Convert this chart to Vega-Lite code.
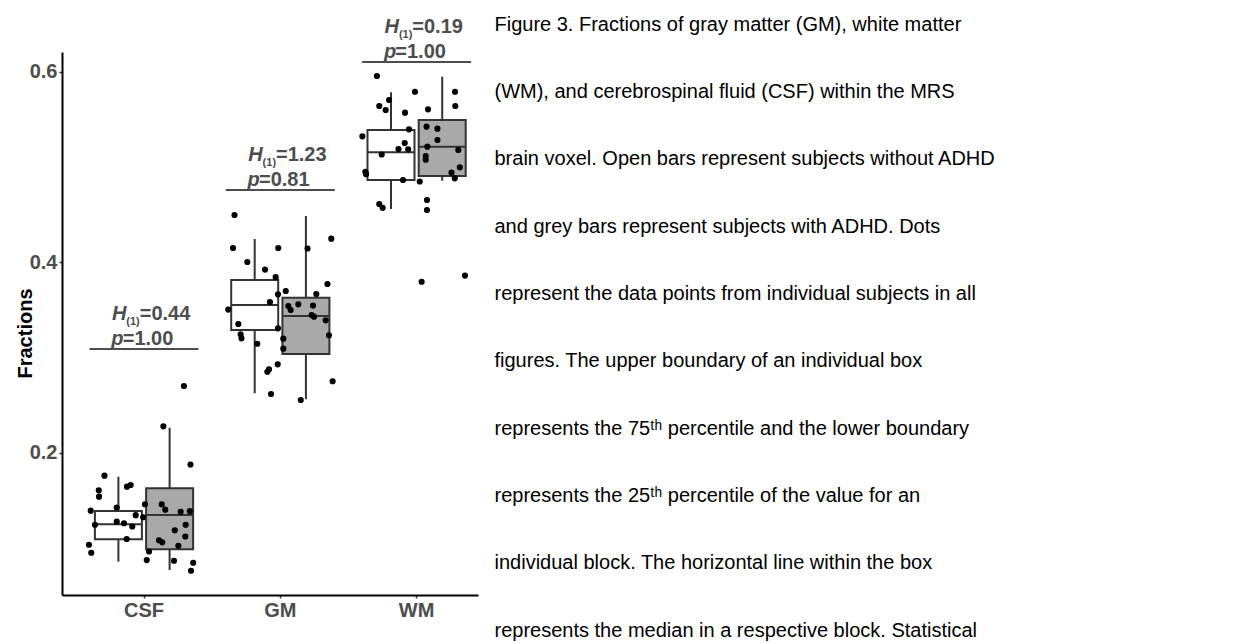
{
  "$schema": "https://vega.github.io/schema/vega-lite/v6.json",
  "background": "white",
  "padding": {"left": 15, "top": 14, "right": 5, "bottom": 5},
  "spacing": 16,
  "config": {
    "view": {"stroke": null},
    "font": "Liberation Sans",
    "axis": {
      "labelFont": "Liberation Sans",
      "labelFontSize": 20,
      "labelFontWeight": "bold",
      "labelColor": "#4D4D4D",
      "domainColor": "#000000",
      "domainWidth": 2,
      "tickColor": "#333333",
      "tickWidth": 1.5,
      "tickSize": 3,
      "labelPadding": 2,
      "grid": false,
      "titleFont": "Liberation Sans",
      "titleFontSize": 20,
      "titleFontWeight": "bold",
      "titleColor": "#000000"
    }
  },
  "datasets": {
    "boxes": [
      {"cat": "CSF", "group": "Control", "lower": 0.0856, "q1": 0.1091, "median": 0.1248, "q3": 0.1388, "upper": 0.1748},
      {"cat": "CSF", "group": "ADHD", "lower": 0.0769, "q1": 0.0986, "median": 0.1346, "q3": 0.1626, "upper": 0.2262},
      {"cat": "GM", "group": "Control", "lower": 0.2624, "q1": 0.3288, "median": 0.3551, "q3": 0.3813, "upper": 0.4244},
      {"cat": "GM", "group": "ADHD", "lower": 0.2561, "q1": 0.3036, "median": 0.3435, "q3": 0.3627, "upper": 0.4485},
      {"cat": "WM", "group": "Control", "lower": 0.4559, "q1": 0.4863, "median": 0.5154, "q3": 0.5388, "upper": 0.5784},
      {"cat": "WM", "group": "ADHD", "lower": 0.4856, "q1": 0.4905, "median": 0.5213, "q3": 0.5493, "upper": 0.5948}
    ],
    "points": [
      {"cat": "CSF", "group": "ADHD", "j": 0.293, "v": 0.270},
      {"cat": "CSF", "group": "ADHD", "j": 0.142, "v": 0.2277},
      {"cat": "CSF", "group": "ADHD", "j": 0.341, "v": 0.1876},
      {"cat": "CSF", "group": "Control", "j": -0.290, "v": 0.1759},
      {"cat": "CSF", "group": "Control", "j": -0.098, "v": 0.1661},
      {"cat": "CSF", "group": "Control", "j": -0.125, "v": 0.1643},
      {"cat": "CSF", "group": "Control", "j": -0.332, "v": 0.1605},
      {"cat": "CSF", "group": "Control", "j": -0.330, "v": 0.1538},
      {"cat": "CSF", "group": "Control", "j": -0.391, "v": 0.1391},
      {"cat": "CSF", "group": "Control", "j": -0.200, "v": 0.1425},
      {"cat": "CSF", "group": "ADHD", "j": 0.007, "v": 0.1459},
      {"cat": "CSF", "group": "ADHD", "j": 0.130, "v": 0.1459},
      {"cat": "CSF", "group": "ADHD", "j": 0.156, "v": 0.1402},
      {"cat": "CSF", "group": "ADHD", "j": 0.269, "v": 0.1379},
      {"cat": "CSF", "group": "ADHD", "j": 0.336, "v": 0.1386},
      {"cat": "CSF", "group": "Control", "j": -0.061, "v": 0.1344},
      {"cat": "CSF", "group": "Control", "j": -0.006, "v": 0.1322},
      {"cat": "CSF", "group": "Control", "j": -0.360, "v": 0.1244},
      {"cat": "CSF", "group": "Control", "j": -0.200, "v": 0.1276},
      {"cat": "CSF", "group": "Control", "j": -0.147, "v": 0.1259},
      {"cat": "CSF", "group": "Control", "j": -0.086, "v": 0.1225},
      {"cat": "CSF", "group": "ADHD", "j": 0.306, "v": 0.1244},
      {"cat": "CSF", "group": "ADHD", "j": 0.226, "v": 0.1186},
      {"cat": "CSF", "group": "Control", "j": -0.127, "v": 0.1094},
      {"cat": "CSF", "group": "ADHD", "j": 0.110, "v": 0.1081},
      {"cat": "CSF", "group": "ADHD", "j": 0.134, "v": 0.1059},
      {"cat": "CSF", "group": "ADHD", "j": 0.303, "v": 0.112},
      {"cat": "CSF", "group": "ADHD", "j": 0.252, "v": 0.1023},
      {"cat": "CSF", "group": "Control", "j": -0.404, "v": 0.1034},
      {"cat": "CSF", "group": "Control", "j": -0.387, "v": 0.095},
      {"cat": "CSF", "group": "ADHD", "j": 0.037, "v": 0.0963},
      {"cat": "CSF", "group": "ADHD", "j": 0.020, "v": 0.0873},
      {"cat": "CSF", "group": "ADHD", "j": 0.220, "v": 0.0866},
      {"cat": "CSF", "group": "ADHD", "j": 0.361, "v": 0.0845},
      {"cat": "CSF", "group": "ADHD", "j": 0.345, "v": 0.0761},
      {"cat": "GM", "group": "Control", "j": -0.336, "v": 0.4496},
      {"cat": "GM", "group": "Control", "j": -0.347, "v": 0.4149},
      {"cat": "GM", "group": "Control", "j": -0.015, "v": 0.4149},
      {"cat": "GM", "group": "Control", "j": -0.242, "v": 0.4002},
      {"cat": "GM", "group": "Control", "j": -0.112, "v": 0.3923},
      {"cat": "GM", "group": "Control", "j": -0.034, "v": 0.3843},
      {"cat": "GM", "group": "Control", "j": -0.017, "v": 0.3663},
      {"cat": "GM", "group": "ADHD", "j": 0.040, "v": 0.3698},
      {"cat": "GM", "group": "Control", "j": -0.076, "v": 0.3582},
      {"cat": "GM", "group": "Control", "j": -0.382, "v": 0.3503},
      {"cat": "GM", "group": "Control", "j": -0.308, "v": 0.3351},
      {"cat": "GM", "group": "Control", "j": -0.291, "v": 0.3243},
      {"cat": "GM", "group": "Control", "j": -0.285, "v": 0.3201},
      {"cat": "GM", "group": "Control", "j": -0.169, "v": 0.3144},
      {"cat": "GM", "group": "Control", "j": -0.017, "v": 0.3306},
      {"cat": "GM", "group": "ADHD", "j": 0.059, "v": 0.354},
      {"cat": "GM", "group": "ADHD", "j": 0.076, "v": 0.3498},
      {"cat": "GM", "group": "ADHD", "j": 0.132, "v": 0.3558},
      {"cat": "GM", "group": "ADHD", "j": 0.200, "v": 0.4144},
      {"cat": "GM", "group": "ADHD", "j": 0.374, "v": 0.4247},
      {"cat": "GM", "group": "ADHD", "j": 0.346, "v": 0.3771},
      {"cat": "GM", "group": "ADHD", "j": 0.264, "v": 0.3666},
      {"cat": "GM", "group": "ADHD", "j": 0.240, "v": 0.3545},
      {"cat": "GM", "group": "ADHD", "j": 0.230, "v": 0.3446},
      {"cat": "GM", "group": "ADHD", "j": 0.247, "v": 0.3428},
      {"cat": "GM", "group": "ADHD", "j": 0.333, "v": 0.339},
      {"cat": "GM", "group": "ADHD", "j": 0.357, "v": 0.3233},
      {"cat": "GM", "group": "ADHD", "j": 0.022, "v": 0.3197},
      {"cat": "GM", "group": "ADHD", "j": 0.022, "v": 0.3092},
      {"cat": "GM", "group": "Control", "j": -0.019, "v": 0.2928},
      {"cat": "GM", "group": "Control", "j": -0.083, "v": 0.2876},
      {"cat": "GM", "group": "Control", "j": -0.095, "v": 0.285},
      {"cat": "GM", "group": "Control", "j": -0.068, "v": 0.2616},
      {"cat": "GM", "group": "ADHD", "j": 0.150, "v": 0.2553},
      {"cat": "GM", "group": "ADHD", "j": 0.384, "v": 0.275},
      {"cat": "WM", "group": "Control", "j": -0.291, "v": 0.5955},
      {"cat": "WM", "group": "Control", "j": -0.012, "v": 0.579},
      {"cat": "WM", "group": "ADHD", "j": 0.282, "v": 0.579},
      {"cat": "WM", "group": "Control", "j": -0.202, "v": 0.5703},
      {"cat": "WM", "group": "Control", "j": -0.274, "v": 0.564},
      {"cat": "WM", "group": "Control", "j": -0.227, "v": 0.5598},
      {"cat": "WM", "group": "Control", "j": -0.085, "v": 0.557},
      {"cat": "WM", "group": "ADHD", "j": 0.084, "v": 0.5605},
      {"cat": "WM", "group": "ADHD", "j": 0.284, "v": 0.564},
      {"cat": "WM", "group": "Control", "j": -0.398, "v": 0.5322},
      {"cat": "WM", "group": "Control", "j": -0.056, "v": 0.5395},
      {"cat": "WM", "group": "ADHD", "j": 0.073, "v": 0.5423},
      {"cat": "WM", "group": "ADHD", "j": 0.153, "v": 0.5402},
      {"cat": "WM", "group": "ADHD", "j": 0.153, "v": 0.5283},
      {"cat": "WM", "group": "ADHD", "j": 0.079, "v": 0.5213},
      {"cat": "WM", "group": "Control", "j": -0.087, "v": 0.5251},
      {"cat": "WM", "group": "Control", "j": -0.133, "v": 0.5188},
      {"cat": "WM", "group": "Control", "j": -0.062, "v": 0.5185},
      {"cat": "WM", "group": "Control", "j": -0.256, "v": 0.5131},
      {"cat": "WM", "group": "ADHD", "j": 0.067, "v": 0.5115},
      {"cat": "WM", "group": "ADHD", "j": 0.067, "v": 0.5076},
      {"cat": "WM", "group": "ADHD", "j": 0.306, "v": 0.5178},
      {"cat": "WM", "group": "Control", "j": -0.376, "v": 0.495},
      {"cat": "WM", "group": "Control", "j": -0.371, "v": 0.4924},
      {"cat": "WM", "group": "ADHD", "j": 0.317, "v": 0.4996},
      {"cat": "WM", "group": "ADHD", "j": 0.256, "v": 0.494},
      {"cat": "WM", "group": "ADHD", "j": 0.280, "v": 0.4881},
      {"cat": "WM", "group": "Control", "j": -0.100, "v": 0.4863},
      {"cat": "WM", "group": "ADHD", "j": 0.023, "v": 0.4847},
      {"cat": "WM", "group": "Control", "j": -0.274, "v": 0.4611},
      {"cat": "WM", "group": "Control", "j": -0.249, "v": 0.4571},
      {"cat": "WM", "group": "ADHD", "j": 0.076, "v": 0.4653},
      {"cat": "WM", "group": "ADHD", "j": 0.076, "v": 0.4548},
      {"cat": "WM", "group": "ADHD", "j": 0.037, "v": 0.3795},
      {"cat": "WM", "group": "ADHD", "j": 0.355, "v": 0.386}
    ],
    "annot": [
      {"cat": "CSF", "y": 0.3089, "h": "=0.44", "p": "=1.00"},
      {"cat": "GM", "y": 0.4758, "h": "=1.23", "p": "=0.81"},
      {"cat": "WM", "y": 0.6102, "h": "=0.19", "p": "=1.00"}
    ],
    "caption": [
      {"line": 0, "text": "Figure 3. Fractions of gray matter (GM), white matter"},
      {"line": 1, "text": "(WM), and cerebrospinal fluid (CSF) within the MRS"},
      {"line": 2, "text": "brain voxel. Open bars represent subjects without ADHD"},
      {"line": 3, "text": "and grey bars represent subjects with ADHD. Dots"},
      {"line": 4, "text": "represent the data points from individual subjects in all"},
      {"line": 5, "text": "figures. The upper boundary of an individual box"},
      {"line": 6, "text": "represents the 75ᵗʰ percentile and the lower boundary"},
      {"line": 7, "text": "represents the 25ᵗʰ percentile of the value for an"},
      {"line": 8, "text": "individual block. The horizontal line within the box"},
      {"line": 9, "text": "represents the median in a respective block. Statistical"}
    ]
  },
  "hconcat": [
    {
      "width": 416,
      "height": 543,
      "encoding": {
        "x": {
          "field": "cat",
          "type": "nominal",
          "scale": {"type": "band", "domain": ["CSF", "GM", "WM"], "paddingInner": 0.099, "paddingOuter": 0.0756, "align": 1},
          "axis": {"title": null, "labelAngle": 0}
        }
      },
      "layer": [
        {
          "data": {"name": "boxes"},
          "mark": {"type": "rule", "color": "#333333", "strokeWidth": 2},
          "encoding": {
            "xOffset": {"field": "group", "type": "nominal", "scale": {"domain": ["Control", "ADHD"], "paddingInner": 0.082, "paddingOuter": 0.24}},
            "y": {
              "field": "lower",
              "type": "quantitative",
              "scale": {"domain": [0.0506, 0.6207], "nice": false, "zero": false},
              "axis": {"title": "Fractions", "values": [0.2, 0.4, 0.6], "format": ".1f", "titleX": -31, "titleY": 281, "titleAngle": -90, "titleAlign": "center", "titleBaseline": "alphabetic"}
            },
            "y2": {"field": "upper"}
          }
        },
        {
          "data": {"name": "boxes"},
          "mark": {"type": "bar", "stroke": "#333333", "strokeWidth": 2},
          "encoding": {
            "xOffset": {"field": "group", "type": "nominal", "scale": {"domain": ["Control", "ADHD"], "paddingInner": 0.082, "paddingOuter": 0.24}},
            "y": {"field": "q1", "type": "quantitative"},
            "y2": {"field": "q3"},
            "fill": {"field": "group", "type": "nominal", "scale": {"domain": ["Control", "ADHD"], "range": ["#FFFFFF", "#A9A9A9"]}, "legend": null}
          }
        },
        {
          "data": {"name": "boxes"},
          "mark": {"type": "bar", "fill": "transparent", "stroke": "#333333", "strokeWidth": 2},
          "encoding": {
            "xOffset": {"field": "group", "type": "nominal", "scale": {"domain": ["Control", "ADHD"], "paddingInner": 0.082, "paddingOuter": 0.24}},
            "y": {"field": "median", "type": "quantitative"},
            "y2": {"field": "median"}
          }
        },
        {
          "data": {"name": "points"},
          "mark": {"type": "circle", "size": 38, "color": "#000000", "opacity": 1},
          "encoding": {
            "xOffset": {"field": "j", "type": "quantitative", "scale": {"domain": [-0.4505, 0.4505]}},
            "y": {"field": "v", "type": "quantitative"}
          }
        },
        {
          "data": {"name": "annot"},
          "mark": {"type": "tick", "orient": "horizontal", "size": 109, "thickness": 2, "color": "#4D4D4D", "opacity": 1},
          "encoding": {"y": {"field": "y", "type": "quantitative"}}
        },
        {
          "data": {"name": "annot"},
          "mark": {"type": "text", "text": "H", "align": "left", "baseline": "alphabetic", "dx": -32, "dy": -29.3, "fontSize": 20, "fontWeight": "bold", "fontStyle": "italic", "color": "#4D4D4D"},
          "encoding": {"y": {"field": "y", "type": "quantitative"}}
        },
        {
          "data": {"name": "annot"},
          "mark": {"type": "text", "text": "(1)", "align": "left", "baseline": "alphabetic", "dx": -17.7, "dy": -23.7, "fontSize": 11, "fontWeight": "bold", "color": "#4D4D4D"},
          "encoding": {"y": {"field": "y", "type": "quantitative"}}
        },
        {
          "data": {"name": "annot"},
          "mark": {"type": "text", "align": "left", "baseline": "alphabetic", "dx": -4.3, "dy": -29.3, "fontSize": 20, "fontWeight": "bold", "color": "#4D4D4D"},
          "encoding": {"y": {"field": "y", "type": "quantitative"}, "text": {"field": "h"}}
        },
        {
          "data": {"name": "annot"},
          "mark": {"type": "text", "text": "p", "align": "left", "baseline": "alphabetic", "dx": -32.7, "dy": -4.2, "fontSize": 20, "fontWeight": "bold", "fontStyle": "italic", "color": "#4D4D4D"},
          "encoding": {"y": {"field": "y", "type": "quantitative"}}
        },
        {
          "data": {"name": "annot"},
          "mark": {"type": "text", "align": "left", "baseline": "alphabetic", "dx": -21.3, "dy": -4.2, "fontSize": 20, "fontWeight": "bold", "color": "#4D4D4D"},
          "encoding": {"y": {"field": "y", "type": "quantitative"}, "text": {"field": "p"}}
        }
      ],
      "resolve": {"scale": {"xOffset": "independent"}}
    },
    {
      "width": 1,
      "height": 606,
      "data": {"name": "caption"},
      "mark": {"type": "text", "align": "left", "baseline": "alphabetic", "dy": -21.5, "font": "Liberation Sans", "fontSize": 20, "color": "#000000"},
      "encoding": {
        "y": {"field": "line", "type": "ordinal", "scale": {"type": "point", "padding": 0}, "axis": null},
        "text": {"field": "text"}
      }
    }
  ]
}
